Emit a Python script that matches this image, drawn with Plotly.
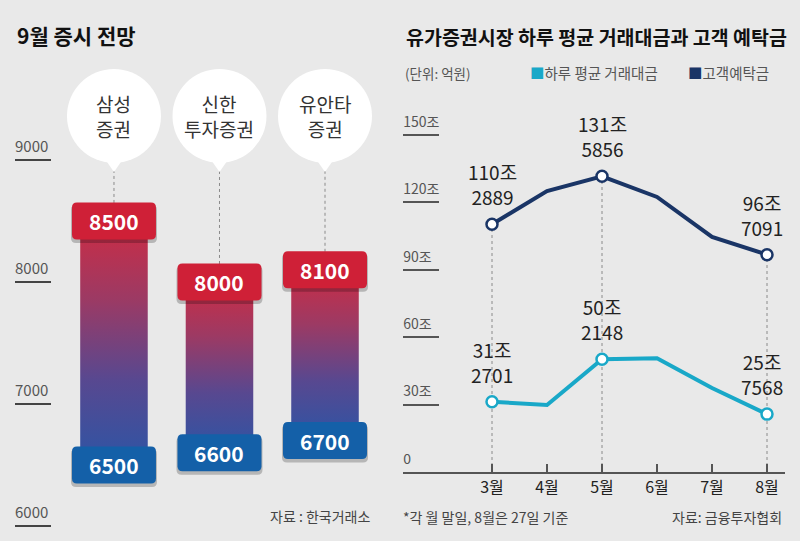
import plotly.graph_objects as go

# left panel: September KOSPI band forecasts
firms = ["삼성<br>증권", "신한<br>투자증권", "유안타<br>증권"]
kospi_high = [8500, 8000, 8100]
kospi_low = [6500, 6600, 6700]
left_ticks = [6000, 7000, 8000, 9000]

# right panel: daily trading value and customer deposits (조원)
months = ["3월", "4월", "5월", "6월", "7월", "8월"]
trading = [31.2701, 29.8, 50.2148, 50.6, 37.4, 25.7568]
deposit = [110.2889, 125.0, 131.5856, 122.4, 104.6, 96.7091]
labeled = [0, 2, 5]
right_ticks = [0, 30, 60, 90, 120, 150]

FONT = "Noto Sans CJK KR, Noto Sans, sans-serif"
BG = "#e9e9e9"
RED = "#cf2037"
BLUE = "#1460a8"
TEAL = "#19a8c8"
NAVY = "#1a3566"
BUBBLE_Y = 9361
BAR_HALF = 0.32


def rounded_rect(w, h, r, dy=0):
    x0, x1, y0, y1 = -w / 2, w / 2, -h / 2 + dy, h / 2 + dy
    return (f"M {x0 + r},{y0} L {x1 - r},{y0} Q {x1},{y0} {x1},{y0 + r} "
            f"L {x1},{y1 - r} Q {x1},{y1} {x1 - r},{y1} L {x0 + r},{y1} "
            f"Q {x0},{y1} {x0},{y1 - r} L {x0},{y0 + r} Q {x0},{y0} {x0 + r},{y0} Z")


def split_label(v):
    jo = int(v)
    rest = round((v - jo) * 10000)
    return f"{jo}조<br>{rest:04d}"


fig = go.Figure()

# gradient range bars
for i, (lo, hi) in enumerate(zip(kospi_low, kospi_high)):
    fig.add_trace(go.Scatter(
        x=[i - BAR_HALF, i + BAR_HALF, i + BAR_HALF, i - BAR_HALF, i - BAR_HALF],
        y=[lo, lo, hi, hi, lo], mode="lines", fill="toself", line=dict(width=0),
        fillgradient=dict(type="vertical",
                          colorscale=[[0, "#2d55a5"], [0.35, "#584890"],
                                      [0.68, "#9c3a64"], [1, "#cc2c44"]]),
        hoverinfo="skip", showlegend=False, xaxis="x", yaxis="y"))
fig.add_trace(go.Bar(
    x=list(range(len(firms))), y=[h - l for h, l in zip(kospi_high, kospi_low)], base=kospi_low,
    width=BAR_HALF * 2, marker=dict(color="rgba(0,0,0,0)", line=dict(width=0),
                                    pattern=dict(shape="-", fgcolor="rgba(255,255,255,0.22)",
                                                 size=4, solidity=0.3)),
    hoverinfo="skip", showlegend=False, xaxis="x", yaxis="y"))

# dotted connectors from bubbles to top boxes
dx, dy = [], []
for i, hi in enumerate(kospi_high):
    dx += [i, i, None]
    dy += [hi, BUBBLE_Y, None]
fig.add_trace(go.Scatter(x=dx, y=dy, mode="lines", line=dict(color="#8a8a8a", width=1, dash="dot"),
                         hoverinfo="skip", showlegend=False, xaxis="x", yaxis="y"))

# right panel dotted guides
gx, gy = [], []
for i in labeled:
    gx += [i, i, None]
    gy += [0, deposit[i], None]
fig.add_trace(go.Scatter(x=gx, y=gy, mode="lines", line=dict(color="#8a8a8a", width=1, dash="dot"),
                         hoverinfo="skip", showlegend=False, xaxis="x2", yaxis="y2"))

for vals, color in ((deposit, NAVY), (trading, TEAL)):
    fig.add_trace(go.Scatter(
        x=list(range(len(months))), y=vals, mode="lines", line=dict(color=color, width=4),
        showlegend=False, xaxis="x2", yaxis="y2"))
    fig.add_trace(go.Scatter(
        x=labeled, y=[vals[i] for i in labeled], mode="markers",
        marker=dict(size=11, color="white", line=dict(color=color, width=2.5)),
        showlegend=False, xaxis="x2", yaxis="y2"))

shapes = []
annotations = []
for i, name in enumerate(firms):
    shapes.append(dict(type="circle", xref="x", yref="y", xsizemode="pixel", ysizemode="pixel",
                       xanchor=i, yanchor=BUBBLE_Y, x0=-47, x1=47, y0=-47, y1=47,
                       fillcolor="white", line=dict(width=0), layer="above"))
    shapes.append(dict(type="path", xref="x", yref="y", xsizemode="pixel", ysizemode="pixel",
                       xanchor=i, yanchor=BUBBLE_Y, path="M -9,-43 L 0,-56 L 9,-43 Z",
                       fillcolor="white", line=dict(width=0), layer="above"))
    annotations.append(dict(x=i, y=BUBBLE_Y, xref="x", yref="y", text=name, showarrow=False,
                            font=dict(family=FONT, size=19, color="#333")))
    for val, color in ((kospi_high[i], RED), (kospi_low[i], BLUE)):
        shapes.append(dict(type="path", xref="x", yref="y", xsizemode="pixel", ysizemode="pixel",
                           xanchor=i, yanchor=val, path=rounded_rect(86, 38, 5, dy=-3),
                           fillcolor="rgba(0,0,0,0.22)", line=dict(width=0), layer="above"))
        shapes.append(dict(type="path", xref="x", yref="y", xsizemode="pixel", ysizemode="pixel",
                           xanchor=i, yanchor=val, path=rounded_rect(84, 37, 5),
                           fillcolor=color, line=dict(width=0), layer="above"))
        annotations.append(dict(x=i, y=val, xref="x", yref="y", text=f"<b>{val}</b>",
                                showarrow=False, font=dict(family=FONT, size=21, color="white")))

for vals in (deposit, trading):
    for i in labeled:
        annotations.append(dict(x=i, y=vals[i], xref="x2", yref="y2", text=split_label(vals[i]),
                                showarrow=False, yanchor="bottom", yshift=12,
                                xshift=-5 if i == len(months) - 1 else 0,
                                font=dict(family=FONT, size=19, color="#222")))

annotations += [
    dict(x=15 / 800, y=1 - 35 / 541, xref="paper", yref="paper", xanchor="left", yanchor="middle",
         text="<b>9월 증시 전망</b>", showarrow=False, font=dict(family=FONT, size=21, color="#111")),
    dict(x=404 / 800, y=1 - 37 / 541, xref="paper", yref="paper", xanchor="left", yanchor="middle",
         text="<b>유가증권시장 하루 평균 거래대금과 고객 예탁금</b>", showarrow=False,
         font=dict(family=FONT, size=19.5, color="#111")),
    dict(x=403 / 800, y=1 - 73 / 541, xref="paper", yref="paper", xanchor="left", yanchor="middle",
         text="(단위: 억원)", showarrow=False, font=dict(family=FONT, size=13.5, color="#555")),
    dict(x=528 / 800, y=1 - 73 / 541, xref="paper", yref="paper", xanchor="left", yanchor="middle",
         text=f"<span style='color:{TEAL}'>■</span>하루 평균 거래대금", showarrow=False,
         font=dict(family=FONT, size=14.5, color="#555")),
    dict(x=686 / 800, y=1 - 73 / 541, xref="paper", yref="paper", xanchor="left", yanchor="middle",
         text=f"<span style='color:{NAVY}'>■</span>고객예탁금", showarrow=False,
         font=dict(family=FONT, size=14.5, color="#555")),
    dict(x=372 / 800, y=1 - 516 / 541, xref="paper", yref="paper", xanchor="right", yanchor="middle",
         text="자료 : 한국거래소", showarrow=False, font=dict(family=FONT, size=14, color="#444")),
    dict(x=401 / 800, y=1 - 517 / 541, xref="paper", yref="paper", xanchor="left", yanchor="middle",
         text="*각 월 말일, 8월은 27일 기준", showarrow=False, font=dict(family=FONT, size=14, color="#444")),
    dict(x=784 / 800, y=1 - 517 / 541, xref="paper", yref="paper", xanchor="right", yanchor="middle",
         text="자료: 금융투자협회", showarrow=False, font=dict(family=FONT, size=14, color="#444")),
]

fig.update_layout(
    width=800, height=541, margin=dict(l=0, r=0, t=0, b=0),
    paper_bgcolor=BG, plot_bgcolor=BG, barmode="overlay",
    shapes=shapes, annotations=annotations,
    xaxis=dict(domain=[15 / 800, 390 / 800], range=[-0.938, 2.616], visible=False, fixedrange=True),
    yaxis=dict(domain=[0, 1], range=[5877, 10311], tickvals=left_ticks,
               ticks="inside", ticklen=36, tickwidth=1.5, tickcolor="#444",
               ticklabelposition="inside", ticklabelshift=-13, ticklabelstandoff=-36,
               showgrid=False, zeroline=False, showline=False,
               tickfont=dict(family=FONT, size=15, color="#555")),
    xaxis2=dict(domain=[403 / 800, 785 / 800], range=[-1.618, 5.327], anchor="y2",
                tickvals=list(range(len(months))), ticktext=months,
                ticks="inside", ticklen=8, tickwidth=1.5, tickcolor="#555",
                showline=True, linecolor="#555", linewidth=2, showgrid=False, zeroline=False,
                tickfont=dict(family=FONT, size=16, color="#222")),
    yaxis2=dict(domain=[69 / 541, 431 / 541], range=[0, 161.1], anchor="x2",
                tickvals=right_ticks, ticktext=[f"{v}조" if v else "0" for v in right_ticks],
                ticks="inside", ticklen=36, tickwidth=1.5, tickcolor="#555",
                ticklabelposition="inside", ticklabelshift=-13, ticklabelstandoff=-36,
                showgrid=False, zeroline=False, showline=False,
                tickfont=dict(family=FONT, size=14, color="#555")),
)

fig.write_html("out.html", config={"displayModeBar": False},
               post_script="document.body.style.margin='0';")
